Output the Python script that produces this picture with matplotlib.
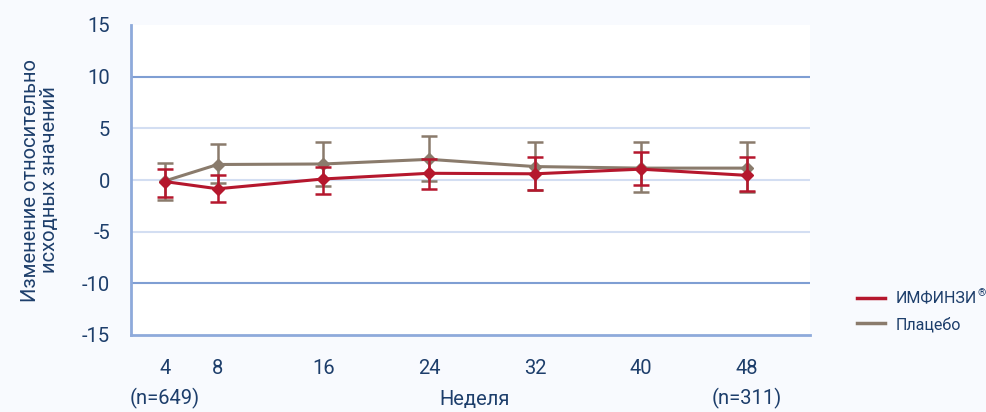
import matplotlib.pyplot as plt
from matplotlib import font_manager

# ---------------- Data ----------------
weeks = [4, 8, 16, 24, 32, 40, 48]
tick_labels = ["4\n(n=649)", "8", "16", "24", "32", "40", "48\n(n=311)"]

imfinzi = [-0.15, -0.85, 0.1, 0.65, 0.6, 1.05, 0.45]
imfinzi_hi = [1.05, 0.5, 1.3, 2.0, 2.2, 2.75, 2.2]
imfinzi_lo = [-1.6, -2.15, -1.4, -0.85, -1.0, -0.45, -1.05]

placebo = [-0.1, 1.5, 1.55, 2.0, 1.3, 1.15, 1.15]
placebo_hi = [1.6, 3.5, 3.7, 4.3, 3.7, 3.7, 3.7]
placebo_lo = [-1.9, -0.25, -0.6, -0.1, -1.0, -1.2, -1.2]

RED = "#B5172D"
GREY = "#8A7B6C"
TEXT = "#1D3E6B"
AXIS = "#8EAADB"

names = {f.name for f in font_manager.fontManager.ttflist}
narrow = "Liberation Sans Narrow" if "Liberation Sans Narrow" in names else "Roboto"

fig = plt.figure(figsize=(9.87, 4.12), dpi=100)
fig.patch.set_facecolor("#F8FAFE")
ax = fig.add_axes([131 / 987, 77 / 412, (810 - 131) / 987, (335 - 25) / 412])
ax.set_facecolor("white")


def draw(vals, hi, lo, color, z):
    yerr = [[v - l for v, l in zip(vals, lo)], [h - v for v, h in zip(vals, hi)]]
    ax.errorbar(weeks, vals, yerr=yerr, color=color, lw=2.2, elinewidth=1.8,
                capsize=6, capthick=1.8, marker="D", markersize=6.5, zorder=z)


draw(placebo, placebo_hi, placebo_lo, GREY, 3)
draw(imfinzi, imfinzi_hi, imfinzi_lo, RED, 4)

# gridlines
for y in [-10, 10]:
    ax.axhline(y, color="#7F9ED3", lw=1.5, zorder=1)
for y in [-5, 0, 5]:
    ax.axhline(y, color="#D3DEF2", lw=1.5, zorder=1)

ax.set_ylim(-15, 15)
ax.set_xlim(1.45, 52.8)
ax.set_yticks([-15, -10, -5, 0, 5, 10, 15])
ax.set_yticklabels(["-15", "-10", "-5", "0", "5", "10", "15"])
ax.set_xticks(weeks)
ax.set_xticklabels(tick_labels, linespacing=1.6)
ax.tick_params(length=0, colors=TEXT, labelsize=14.5)
for lab in ax.get_xticklabels() + ax.get_yticklabels():
    lab.set_family("Roboto")
    lab.set_color(TEXT)
ax.tick_params(axis="y", pad=15)
ax.tick_params(axis="x", pad=17)

for s in ["top", "right"]:
    ax.spines[s].set_visible(False)
for s in ["left", "bottom"]:
    ax.spines[s].set_color(AXIS)
    ax.spines[s].set_linewidth(2)

fig.text(475 / 987, 1 - 400 / 412, "Неделя", ha="center", va="center",
         color=TEXT, fontsize=14.5, family=narrow)
fig.text(40 / 987, 1 - 180 / 412, "Изменение относительно\nисходных значений",
         ha="center", va="center", rotation=90, color=TEXT, fontsize=14.5,
         family=narrow, linespacing=1.0)

# legend
fig.lines.append(plt.Line2D([857 / 987, 885 / 987], [1 - 298 / 412] * 2,
                            color=RED, lw=2.5, transform=fig.transFigure))
fig.lines.append(plt.Line2D([857 / 987, 885 / 987], [1 - 323 / 412] * 2,
                            color=GREY, lw=2.5, transform=fig.transFigure))
t = fig.text(896 / 987, 1 - 299 / 412, "ИМФИНЗИ", va="center", color=TEXT,
             fontsize=11.5, family=narrow)
ax.annotate("®", xy=(1.0, 0.55), xycoords=t, xytext=(0.3, 0), textcoords="offset points",
            va="bottom", ha="left", color=TEXT, fontsize=7.5, family=narrow,
            annotation_clip=False)
fig.text(896 / 987, 1 - 325 / 412, "Плацебо", va="center", color=TEXT,
         fontsize=11.5, family=narrow)

fig.savefig("out.png", dpi=100, facecolor=fig.get_facecolor())
